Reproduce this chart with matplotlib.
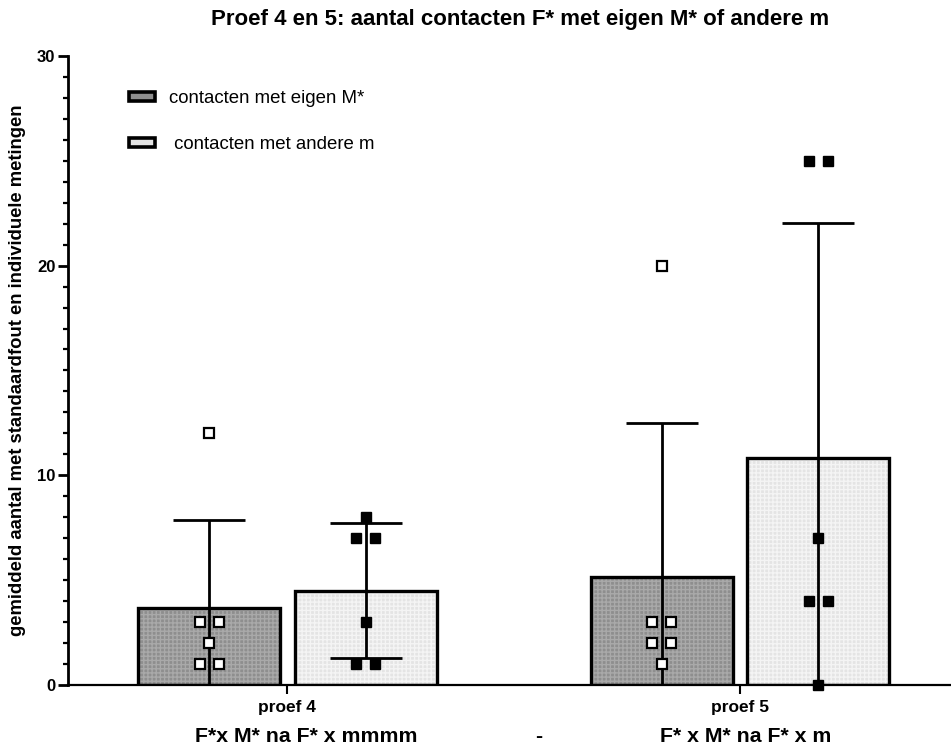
import numpy as np
import matplotlib.pyplot as plt
from matplotlib.patches import Patch
from collections import Counter

plt.rcParams["font.family"] = ["Liberation Sans", "DejaVu Sans"]

groups = ["proef 4", "proef 5"]
# individual measurements per proef
eigen = [[12, 3, 3, 2, 1, 1], [20, 3, 3, 2, 2, 1]]
andere = [[8, 7, 7, 3, 1, 1], [25, 25, 7, 4, 4, 0]]
series_labels = ["contacten met eigen M*", " contacten met andere m"]
bottom_labels = ["F*x M* na F* x mmmm", "-", "F* x M* na F* x m"]

bar_w = 0.314
offset = 0.173
fills = ["#8e8e8e", "#e4e4e4"]
hatch_cols = ["#a9a9a9", "#f4f4f4"]
open_marker = [True, False]

fig = plt.figure(figsize=(9.51, 7.49), dpi=100)
ax = fig.add_axes([0.0715, 0.0854, 0.93, 0.84])

x = np.arange(len(groups))


def spread(vals, center, step=0.021):
    # place duplicate values side by side around the bar centre
    counts = Counter(vals)
    seen = Counter()
    xs = []
    for v in vals:
        n = counts[v]
        k = seen[v]
        seen[v] += 1
        xs.append(center + (k - (n - 1) / 2) * 2 * step)
    return xs


for si, data in enumerate([eigen, andere]):
    pos = x + (-offset if si == 0 else offset)
    means = np.array([np.mean(d) for d in data])
    sds = np.array([np.std(d, ddof=1) for d in data])
    lower = np.minimum(sds, means)
    ax.bar(pos, means, bar_w, color=fills[si], edgecolor=hatch_cols[si],
           hatch="++++", linewidth=0, zorder=1)
    ax.bar(pos, means, bar_w, fill=False, edgecolor="black", linewidth=2.4,
           zorder=2)
    ax.errorbar(pos, means, yerr=[lower, sds], fmt="none", ecolor="black",
                elinewidth=2, capsize=26, capthick=2, zorder=3)
    for gi, d in enumerate(data):
        xs = spread(d, pos[gi])
        if open_marker[si]:
            ax.plot(xs, d, "s", ms=6.5, mfc="white", mec="black", mew=1.6,
                    zorder=4, clip_on=False)
        else:
            ax.plot(xs, d, "s", ms=6.5, mfc="black", mec="black", mew=1,
                    zorder=4, clip_on=False)

ax.set_xlim(-0.485, 1.47)
ax.set_ylim(0, 30)
ax.set_xticks(x)
ax.set_xticklabels(groups, fontsize=12.5, fontweight="bold")
ax.set_yticks([0, 10, 20, 30])
ax.set_yticks(np.arange(0, 31, 1), minor=True)
ax.set_yticklabels(["0", "10", "20", "30"], fontsize=12, fontweight="bold")
ax.tick_params(axis="y", which="major", length=7, width=2, pad=2)
ax.tick_params(axis="y", which="minor", length=3.8, width=1.6)
ax.tick_params(axis="x", length=6.5, width=1.5, pad=4)
ax.spines["top"].set_visible(False)
ax.spines["right"].set_visible(False)
ax.spines["left"].set_linewidth(2)
ax.spines["bottom"].set_linewidth(1.6)
ax.set_ylabel("gemiddeld aantal met standaardfout en individuele metingen",
              fontsize=13.3, fontweight="bold", labelpad=8)

fig.text(0.547, 1 - 20 / 749,
         "Proef 4 en 5: aantal contacten F* met eigen M* of andere m",
         ha="center", va="center", fontsize=16, fontweight="bold")

handles = [Patch(facecolor=fills[i], edgecolor="black", linewidth=2.6)
           for i in range(2)]
ax.legend(handles, series_labels, loc="upper left",
          bbox_to_anchor=(0.05, 0.972), frameon=False, fontsize=13.4,
          handlelength=1.4, handleheight=0.4, handletextpad=0.75,
          labelspacing=1.55)

fig.text(0.322, 0.017, bottom_labels[0], ha="center", va="center",
         fontsize=15.3, fontweight="bold")
fig.text(0.566, 0.017, bottom_labels[1], ha="center", va="center",
         fontsize=15.3, fontweight="bold")
fig.text(0.784, 0.017, bottom_labels[2], ha="center", va="center",
         fontsize=15.3, fontweight="bold")

fig.savefig("out.png", dpi=100)
